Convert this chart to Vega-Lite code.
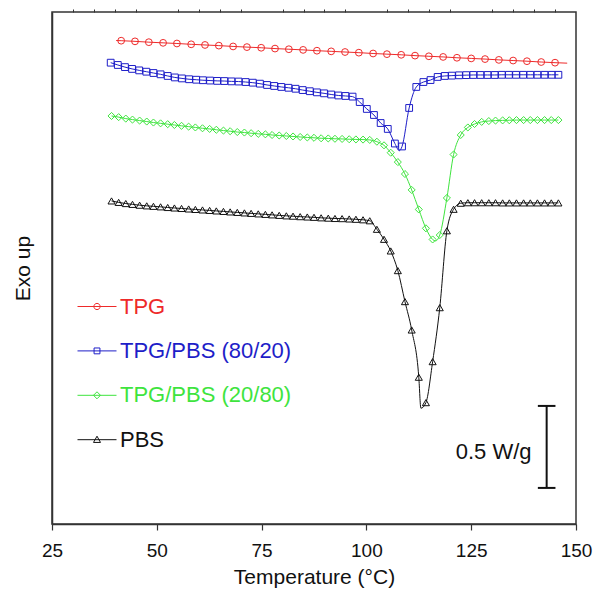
{
"$schema": "https://vega.github.io/schema/vega-lite/v6.json",
"width": 524, "height": 512,
"autosize": {"type": "none"},
"padding": {"left": 52, "top": 12, "right": 19, "bottom": 69},
"background": "white",
"config": {"font": "Liberation Sans", "view": {"stroke": "#333333", "strokeWidth": 1.5}},
"datasets": {"curves": [
{"sample":"TPG","T":41.5,"Q":2.947},{"sample":"TPG","T":44.8,"Q":2.943},{"sample":"TPG","T":48.1,"Q":2.938},{"sample":"TPG","T":51.5,"Q":2.934},{"sample":"TPG","T":54.8,"Q":2.930},{"sample":"TPG","T":58.2,"Q":2.925},{"sample":"TPG","T":61.5,"Q":2.921},{"sample":"TPG","T":64.8,"Q":2.917},{"sample":"TPG","T":68.2,"Q":2.912},{"sample":"TPG","T":71.5,"Q":2.908},{"sample":"TPG","T":74.9,"Q":2.904},{"sample":"TPG","T":78.2,"Q":2.899},{"sample":"TPG","T":81.5,"Q":2.895},{"sample":"TPG","T":84.9,"Q":2.891},{"sample":"TPG","T":88.2,"Q":2.886},{"sample":"TPG","T":91.6,"Q":2.882},{"sample":"TPG","T":94.9,"Q":2.878},{"sample":"TPG","T":98.2,"Q":2.874},{"sample":"TPG","T":101.6,"Q":2.869},{"sample":"TPG","T":104.9,"Q":2.865},{"sample":"TPG","T":108.3,"Q":2.861},{"sample":"TPG","T":111.6,"Q":2.856},{"sample":"TPG","T":114.9,"Q":2.852},{"sample":"TPG","T":118.3,"Q":2.848},{"sample":"TPG","T":121.6,"Q":2.843},{"sample":"TPG","T":125.0,"Q":2.839},{"sample":"TPG","T":128.3,"Q":2.835},{"sample":"TPG","T":131.6,"Q":2.830},{"sample":"TPG","T":135.0,"Q":2.826},{"sample":"TPG","T":138.3,"Q":2.822},{"sample":"TPG","T":141.7,"Q":2.817},{"sample":"TPG","T":145.0,"Q":2.813},
{"sample":"TPG","T":40.3,"Q":2.948},{"sample":"TPG","T":147.9,"Q":2.810},
{"sample":"TPG/PBS (80/20)","T":39.0,"Q":2.813},{"sample":"TPG/PBS (80/20)","T":40.7,"Q":2.799},{"sample":"TPG/PBS (80/20)","T":42.4,"Q":2.786},{"sample":"TPG/PBS (80/20)","T":44.1,"Q":2.775},{"sample":"TPG/PBS (80/20)","T":45.8,"Q":2.766},{"sample":"TPG/PBS (80/20)","T":47.5,"Q":2.758},{"sample":"TPG/PBS (80/20)","T":49.2,"Q":2.750},{"sample":"TPG/PBS (80/20)","T":50.9,"Q":2.742},{"sample":"TPG/PBS (80/20)","T":52.6,"Q":2.732},{"sample":"TPG/PBS (80/20)","T":54.3,"Q":2.723},{"sample":"TPG/PBS (80/20)","T":56.0,"Q":2.717},{"sample":"TPG/PBS (80/20)","T":57.7,"Q":2.712},{"sample":"TPG/PBS (80/20)","T":59.4,"Q":2.709},{"sample":"TPG/PBS (80/20)","T":61.0,"Q":2.706},{"sample":"TPG/PBS (80/20)","T":62.7,"Q":2.704},{"sample":"TPG/PBS (80/20)","T":64.4,"Q":2.702},{"sample":"TPG/PBS (80/20)","T":66.1,"Q":2.701},{"sample":"TPG/PBS (80/20)","T":67.8,"Q":2.699},{"sample":"TPG/PBS (80/20)","T":69.5,"Q":2.698},{"sample":"TPG/PBS (80/20)","T":71.2,"Q":2.695},{"sample":"TPG/PBS (80/20)","T":72.9,"Q":2.691},{"sample":"TPG/PBS (80/20)","T":74.6,"Q":2.685},{"sample":"TPG/PBS (80/20)","T":76.3,"Q":2.677},{"sample":"TPG/PBS (80/20)","T":78.0,"Q":2.671},{"sample":"TPG/PBS (80/20)","T":79.7,"Q":2.665},{"sample":"TPG/PBS (80/20)","T":81.4,"Q":2.660},{"sample":"TPG/PBS (80/20)","T":83.1,"Q":2.654},{"sample":"TPG/PBS (80/20)","T":84.8,"Q":2.646},{"sample":"TPG/PBS (80/20)","T":86.5,"Q":2.639},{"sample":"TPG/PBS (80/20)","T":88.2,"Q":2.632},{"sample":"TPG/PBS (80/20)","T":89.9,"Q":2.626},{"sample":"TPG/PBS (80/20)","T":91.6,"Q":2.619},{"sample":"TPG/PBS (80/20)","T":93.3,"Q":2.613},{"sample":"TPG/PBS (80/20)","T":95.0,"Q":2.610},{"sample":"TPG/PBS (80/20)","T":96.7,"Q":2.606},{"sample":"TPG/PBS (80/20)","T":98.4,"Q":2.573},{"sample":"TPG/PBS (80/20)","T":100.1,"Q":2.531},{"sample":"TPG/PBS (80/20)","T":101.8,"Q":2.494},{"sample":"TPG/PBS (80/20)","T":103.4,"Q":2.445},{"sample":"TPG/PBS (80/20)","T":105.1,"Q":2.409},{"sample":"TPG/PBS (80/20)","T":106.8,"Q":2.320},{"sample":"TPG/PBS (80/20)","T":108.5,"Q":2.302},{"sample":"TPG/PBS (80/20)","T":110.2,"Q":2.537},{"sample":"TPG/PBS (80/20)","T":111.9,"Q":2.665},{"sample":"TPG/PBS (80/20)","T":113.6,"Q":2.695},{"sample":"TPG/PBS (80/20)","T":115.3,"Q":2.707},{"sample":"TPG/PBS (80/20)","T":117.0,"Q":2.726},{"sample":"TPG/PBS (80/20)","T":118.7,"Q":2.732},{"sample":"TPG/PBS (80/20)","T":120.4,"Q":2.734},{"sample":"TPG/PBS (80/20)","T":122.1,"Q":2.736},{"sample":"TPG/PBS (80/20)","T":123.8,"Q":2.737},{"sample":"TPG/PBS (80/20)","T":125.5,"Q":2.738},{"sample":"TPG/PBS (80/20)","T":127.2,"Q":2.738},{"sample":"TPG/PBS (80/20)","T":128.9,"Q":2.738},{"sample":"TPG/PBS (80/20)","T":130.6,"Q":2.738},{"sample":"TPG/PBS (80/20)","T":132.3,"Q":2.739},{"sample":"TPG/PBS (80/20)","T":134.0,"Q":2.739},{"sample":"TPG/PBS (80/20)","T":135.7,"Q":2.739},{"sample":"TPG/PBS (80/20)","T":137.4,"Q":2.739},{"sample":"TPG/PBS (80/20)","T":139.1,"Q":2.739},{"sample":"TPG/PBS (80/20)","T":140.8,"Q":2.739},{"sample":"TPG/PBS (80/20)","T":142.5,"Q":2.739},{"sample":"TPG/PBS (80/20)","T":144.2,"Q":2.739},{"sample":"TPG/PBS (80/20)","T":145.8,"Q":2.739},
{"sample":"TPG/PBS (80/20)","T":107.85,"Q":2.276},
{"sample":"TPG/PBS (20/80)","T":39.2,"Q":2.488},{"sample":"TPG/PBS (20/80)","T":40.9,"Q":2.481},{"sample":"TPG/PBS (20/80)","T":42.6,"Q":2.472},{"sample":"TPG/PBS (20/80)","T":44.2,"Q":2.466},{"sample":"TPG/PBS (20/80)","T":45.9,"Q":2.460},{"sample":"TPG/PBS (20/80)","T":47.6,"Q":2.454},{"sample":"TPG/PBS (20/80)","T":49.2,"Q":2.448},{"sample":"TPG/PBS (20/80)","T":50.9,"Q":2.443},{"sample":"TPG/PBS (20/80)","T":52.6,"Q":2.438},{"sample":"TPG/PBS (20/80)","T":54.2,"Q":2.433},{"sample":"TPG/PBS (20/80)","T":55.9,"Q":2.428},{"sample":"TPG/PBS (20/80)","T":57.6,"Q":2.423},{"sample":"TPG/PBS (20/80)","T":59.2,"Q":2.418},{"sample":"TPG/PBS (20/80)","T":60.9,"Q":2.413},{"sample":"TPG/PBS (20/80)","T":62.6,"Q":2.409},{"sample":"TPG/PBS (20/80)","T":64.2,"Q":2.404},{"sample":"TPG/PBS (20/80)","T":65.9,"Q":2.399},{"sample":"TPG/PBS (20/80)","T":67.5,"Q":2.395},{"sample":"TPG/PBS (20/80)","T":69.2,"Q":2.390},{"sample":"TPG/PBS (20/80)","T":70.9,"Q":2.387},{"sample":"TPG/PBS (20/80)","T":72.5,"Q":2.383},{"sample":"TPG/PBS (20/80)","T":74.2,"Q":2.379},{"sample":"TPG/PBS (20/80)","T":75.9,"Q":2.376},{"sample":"TPG/PBS (20/80)","T":77.5,"Q":2.372},{"sample":"TPG/PBS (20/80)","T":79.2,"Q":2.369},{"sample":"TPG/PBS (20/80)","T":80.9,"Q":2.366},{"sample":"TPG/PBS (20/80)","T":82.5,"Q":2.363},{"sample":"TPG/PBS (20/80)","T":84.2,"Q":2.360},{"sample":"TPG/PBS (20/80)","T":85.9,"Q":2.357},{"sample":"TPG/PBS (20/80)","T":87.5,"Q":2.355},{"sample":"TPG/PBS (20/80)","T":89.2,"Q":2.352},{"sample":"TPG/PBS (20/80)","T":90.9,"Q":2.351},{"sample":"TPG/PBS (20/80)","T":92.5,"Q":2.349},{"sample":"TPG/PBS (20/80)","T":94.2,"Q":2.348},{"sample":"TPG/PBS (20/80)","T":95.9,"Q":2.346},{"sample":"TPG/PBS (20/80)","T":97.5,"Q":2.345},{"sample":"TPG/PBS (20/80)","T":99.2,"Q":2.344},{"sample":"TPG/PBS (20/80)","T":100.8,"Q":2.342},{"sample":"TPG/PBS (20/80)","T":102.5,"Q":2.331},{"sample":"TPG/PBS (20/80)","T":104.2,"Q":2.309},{"sample":"TPG/PBS (20/80)","T":105.8,"Q":2.264},{"sample":"TPG/PBS (20/80)","T":107.5,"Q":2.207},{"sample":"TPG/PBS (20/80)","T":109.2,"Q":2.134},{"sample":"TPG/PBS (20/80)","T":110.8,"Q":2.037},{"sample":"TPG/PBS (20/80)","T":112.5,"Q":1.918},{"sample":"TPG/PBS (20/80)","T":114.2,"Q":1.803},{"sample":"TPG/PBS (20/80)","T":115.8,"Q":1.735},{"sample":"TPG/PBS (20/80)","T":117.5,"Q":1.762},{"sample":"TPG/PBS (20/80)","T":119.2,"Q":1.988},{"sample":"TPG/PBS (20/80)","T":120.8,"Q":2.253},{"sample":"TPG/PBS (20/80)","T":122.5,"Q":2.372},{"sample":"TPG/PBS (20/80)","T":124.2,"Q":2.418},{"sample":"TPG/PBS (20/80)","T":125.8,"Q":2.439},{"sample":"TPG/PBS (20/80)","T":127.5,"Q":2.452},{"sample":"TPG/PBS (20/80)","T":129.2,"Q":2.457},{"sample":"TPG/PBS (20/80)","T":130.8,"Q":2.460},{"sample":"TPG/PBS (20/80)","T":132.5,"Q":2.461},{"sample":"TPG/PBS (20/80)","T":134.1,"Q":2.462},{"sample":"TPG/PBS (20/80)","T":135.8,"Q":2.463},{"sample":"TPG/PBS (20/80)","T":137.5,"Q":2.463},{"sample":"TPG/PBS (20/80)","T":139.1,"Q":2.463},{"sample":"TPG/PBS (20/80)","T":140.8,"Q":2.463},{"sample":"TPG/PBS (20/80)","T":142.5,"Q":2.463},{"sample":"TPG/PBS (20/80)","T":144.1,"Q":2.463},{"sample":"TPG/PBS (20/80)","T":145.8,"Q":2.463},
{"sample":"TPG/PBS (20/80)","T":116.5,"Q":1.726},
{"sample":"PBS","T":39.2,"Q":1.970},{"sample":"PBS","T":40.9,"Q":1.961},{"sample":"PBS","T":42.6,"Q":1.954},{"sample":"PBS","T":44.2,"Q":1.949},{"sample":"PBS","T":45.9,"Q":1.944},{"sample":"PBS","T":47.6,"Q":1.940},{"sample":"PBS","T":49.2,"Q":1.937},{"sample":"PBS","T":50.9,"Q":1.934},{"sample":"PBS","T":52.6,"Q":1.930},{"sample":"PBS","T":54.2,"Q":1.927},{"sample":"PBS","T":55.9,"Q":1.924},{"sample":"PBS","T":57.6,"Q":1.921},{"sample":"PBS","T":59.2,"Q":1.918},{"sample":"PBS","T":60.9,"Q":1.915},{"sample":"PBS","T":62.6,"Q":1.912},{"sample":"PBS","T":64.2,"Q":1.909},{"sample":"PBS","T":65.9,"Q":1.906},{"sample":"PBS","T":67.5,"Q":1.903},{"sample":"PBS","T":69.2,"Q":1.900},{"sample":"PBS","T":70.9,"Q":1.897},{"sample":"PBS","T":72.5,"Q":1.894},{"sample":"PBS","T":74.2,"Q":1.891},{"sample":"PBS","T":75.9,"Q":1.888},{"sample":"PBS","T":77.5,"Q":1.885},{"sample":"PBS","T":79.2,"Q":1.882},{"sample":"PBS","T":80.9,"Q":1.879},{"sample":"PBS","T":82.5,"Q":1.877},{"sample":"PBS","T":84.2,"Q":1.874},{"sample":"PBS","T":85.9,"Q":1.872},{"sample":"PBS","T":87.5,"Q":1.870},{"sample":"PBS","T":89.2,"Q":1.867},{"sample":"PBS","T":90.9,"Q":1.865},{"sample":"PBS","T":92.5,"Q":1.863},{"sample":"PBS","T":94.2,"Q":1.862},{"sample":"PBS","T":95.9,"Q":1.860},{"sample":"PBS","T":97.5,"Q":1.858},{"sample":"PBS","T":99.2,"Q":1.855},{"sample":"PBS","T":100.8,"Q":1.849},{"sample":"PBS","T":102.5,"Q":1.797},{"sample":"PBS","T":104.2,"Q":1.736},{"sample":"PBS","T":105.8,"Q":1.665},{"sample":"PBS","T":107.5,"Q":1.545},{"sample":"PBS","T":109.2,"Q":1.356},{"sample":"PBS","T":110.8,"Q":1.183},{"sample":"PBS","T":112.5,"Q":0.895},{"sample":"PBS","T":114.2,"Q":0.740},{"sample":"PBS","T":115.8,"Q":0.990},{"sample":"PBS","T":117.5,"Q":1.319},{"sample":"PBS","T":119.2,"Q":1.788},{"sample":"PBS","T":120.8,"Q":1.919},{"sample":"PBS","T":122.5,"Q":1.956},{"sample":"PBS","T":124.2,"Q":1.959},{"sample":"PBS","T":125.8,"Q":1.959},{"sample":"PBS","T":127.5,"Q":1.959},{"sample":"PBS","T":129.2,"Q":1.959},{"sample":"PBS","T":130.8,"Q":1.959},{"sample":"PBS","T":132.5,"Q":1.958},{"sample":"PBS","T":134.1,"Q":1.958},{"sample":"PBS","T":135.8,"Q":1.958},{"sample":"PBS","T":137.5,"Q":1.958},{"sample":"PBS","T":139.1,"Q":1.958},{"sample":"PBS","T":140.8,"Q":1.958},{"sample":"PBS","T":142.5,"Q":1.958},{"sample":"PBS","T":144.1,"Q":1.958},{"sample":"PBS","T":145.8,"Q":1.958},
{"sample":"PBS","T":113.0,"Q":0.706}
]},
"layer": [
{
"data": {"name": "curves"},
"mark": {"type": "line", "interpolate": "monotone", "strokeWidth": 1},
"encoding": {
"x": {"field": "T", "type": "quantitative", "scale": {"domain": [25, 150], "nice": false, "zero": false},
"axis": {"values": [25, 50, 75, 100, 125, 150], "tickSize": 6, "tickColor": "#333333", "tickWidth": 1.2, "domainColor": "#333333", "domainWidth": 1.5, "labelFontSize": 19, "labelColor": "#111111", "labelPadding": 11, "labelFlush": false, "grid": false, "title": "Temperature (°C)", "titleFontSize": 21, "titleFontWeight": "normal", "titleColor": "#111111", "titlePadding": 6}},
"y": {"field": "Q", "type": "quantitative", "scale": {"domain": [0, 3.122], "nice": false, "zero": false},
"axis": {"ticks": false, "labels": false, "grid": false, "domainColor": "#333333", "domainWidth": 1.5, "title": "Exo up", "titleFontSize": 21, "titleFontWeight": "normal", "titleColor": "#111111", "titlePadding": 19}},
"color": {"field": "sample", "type": "nominal",
"scale": {"domain": ["TPG", "TPG/PBS (80/20)", "TPG/PBS (20/80)", "PBS"], "range": ["#ee2a2a", "#1e1ec8", "#3ee43e", "#111111"]},
"legend": {"orient": "none", "legendX": 25, "legendY": 274.5, "title": null, "padding": 0, "symbolType": "stroke", "symbolSize": 1521, "symbolStrokeWidth": 1, "labelFontSize": 22, "labelFont": "Liberation Sans", "labelOffset": 3, "labelLimit": 0, "rowPadding": 13.4,
"encode": {
"symbols": {"update": {
"shape": {"signal": "datum.value === 'TPG' ? 'M-1,0L1,0M0.16,0A0.16,0.16,0,1,1,-0.16,0A0.16,0.16,0,1,1,0.16,0' : datum.value === 'TPG/PBS (80/20)' ? 'M-1,0L1,0M-0.15,-0.15L0.15,-0.15L0.15,0.15L-0.15,0.15Z' : datum.value === 'TPG/PBS (20/80)' ? 'M-1,0L1,0M0,-0.18L0.18,0L0,0.18L-0.18,0Z' : 'M-1,0L1,0M0,-0.18L0.18,0.14L-0.18,0.14Z'"},
"stroke": {"scale": "color", "field": "value"},
"fill": {"value": "transparent"},
"strokeWidth": {"value": 1}}},
"labels": {"update": {"fill": {"scale": "color", "field": "value"}}}
}}}
}
},
{
"data": {"name": "curves"},
"transform": [{"filter": "datum.sample === 'TPG'"}, {"filter": {"not": {"field": "T", "oneOf": [40.3, 147.9]}}}],
"mark": {"type": "point", "shape": "circle", "filled": false, "strokeWidth": 1, "size": 46, "opacity": 1},
"encoding": {
"x": {"field": "T", "type": "quantitative",
"axis": {"values": [30, 35, 40, 45, 55, 60, 65, 70, 80, 85, 90, 95, 105, 110, 115, 120, 130, 135, 140, 145], "tickSize": 3, "tickColor": "#333333", "tickWidth": 1, "labels": false, "domain": false, "grid": false, "title": null}},
"y": {"field": "Q", "type": "quantitative", "axis": null},
"color": {"field": "sample", "type": "nominal", "legend": null}
}
},
{
"data": {"name": "curves"},
"transform": [{"filter": "datum.sample === 'TPG/PBS (80/20)'"}, {"filter": {"not": {"field": "T", "oneOf": [107.85]}}}],
"mark": {"type": "point", "shape": "square", "filled": false, "strokeWidth": 1, "size": 46, "opacity": 1},
"encoding": {
"x": {"field": "T", "type": "quantitative", "axis": null},
"y": {"field": "Q", "type": "quantitative", "axis": null},
"color": {"field": "sample", "type": "nominal", "legend": null}
}
},
{
"data": {"name": "curves"},
"transform": [{"filter": "datum.sample === 'TPG/PBS (20/80)'"}, {"filter": {"not": {"field": "T", "oneOf": [116.5]}}}],
"mark": {"type": "point", "shape": "diamond", "filled": false, "strokeWidth": 1, "size": 50, "opacity": 1},
"encoding": {
"x": {"field": "T", "type": "quantitative", "axis": null},
"y": {"field": "Q", "type": "quantitative", "axis": null},
"color": {"field": "sample", "type": "nominal", "legend": null}
}
},
{
"data": {"name": "curves"},
"transform": [{"filter": "datum.sample === 'PBS'"}, {"filter": {"not": {"field": "T", "oneOf": [113.0]}}}],
"mark": {"type": "point", "shape": "triangle-up", "filled": false, "strokeWidth": 1, "size": 50, "opacity": 1},
"encoding": {
"x": {"field": "T", "type": "quantitative", "axis": null},
"y": {"field": "Q", "type": "quantitative", "axis": null},
"color": {"field": "sample", "type": "nominal", "legend": null}
}
},
{
"data": {"values": [{}]},
"mark": {"type": "rule", "strokeWidth": 2, "color": "#111111"},
"encoding": {"x": {"datum": 143.0, "type": "quantitative", "axis": null}, "y": {"datum": 0.22, "type": "quantitative", "axis": null}, "y2": {"datum": 0.72}}
},
{
"data": {"values": [{}]},
"mark": {"type": "rule", "strokeWidth": 2, "color": "#111111"},
"encoding": {"x": {"datum": 140.9, "type": "quantitative", "axis": null}, "x2": {"datum": 145.1}, "y": {"datum": 0.72, "type": "quantitative", "axis": null}}
},
{
"data": {"values": [{}]},
"mark": {"type": "rule", "strokeWidth": 2, "color": "#111111"},
"encoding": {"x": {"datum": 140.9, "type": "quantitative", "axis": null}, "x2": {"datum": 145.1}, "y": {"datum": 0.22, "type": "quantitative", "axis": null}}
},
{
"data": {"values": [{}]},
"mark": {"type": "text", "align": "right", "baseline": "middle", "fontSize": 22, "color": "#111111"},
"encoding": {"x": {"datum": 139.4, "type": "quantitative", "axis": null}, "y": {"datum": 0.44, "type": "quantitative", "axis": null}, "text": {"value": "0.5 W/g"}}
}
],
"resolve": {"axis": {"x": "independent", "y": "independent"}}
}
